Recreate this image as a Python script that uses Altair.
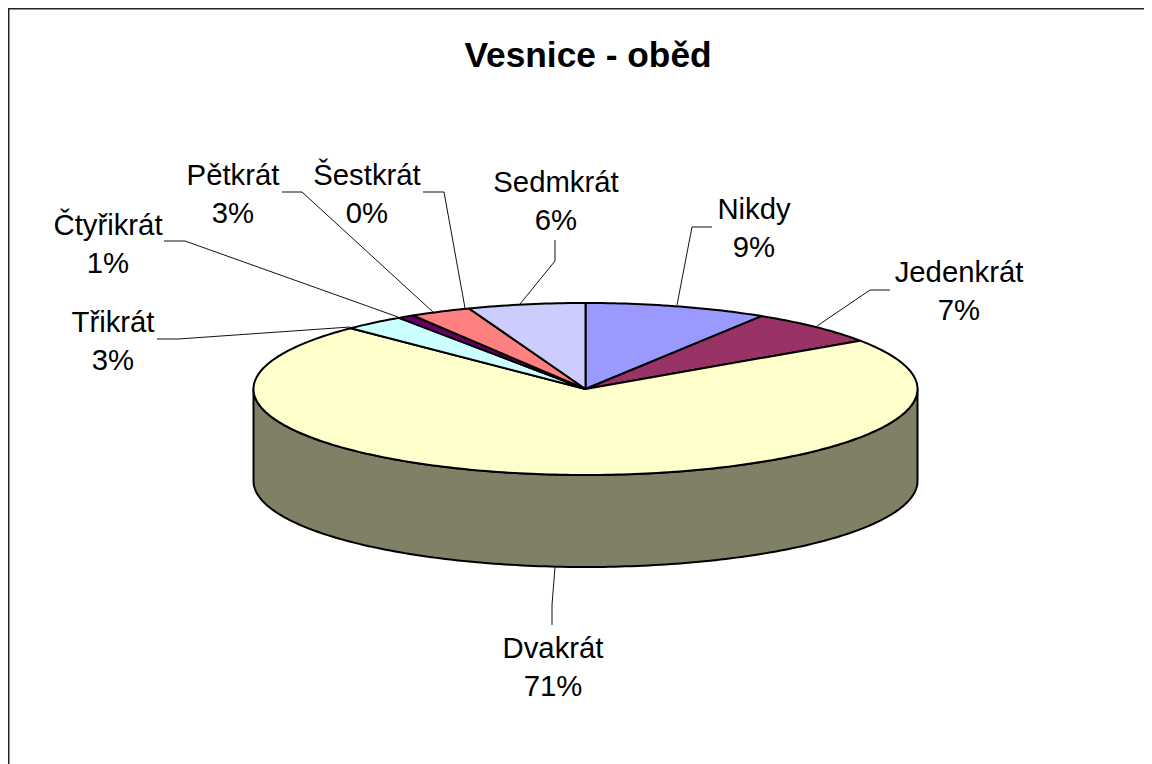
import math
import altair as alt
import pandas as pd

# Chart content
TITLE = "Vesnice - oběd"
names = ["Nikdy", "Jedenkrát", "Dvakrát", "Třikrát", "Čtyřikrát", "Pětkrát", "Šestkrát", "Sedmkrát"]
shares = [8.9, 6.6, 72.0, 3.0, 0.8, 3.0, 0.0, 5.7]   # drawn slice sizes
percent_labels = ["9%", "7%", "71%", "3%", "1%", "3%", "0%", "6%"]
colors = ["#9999FF", "#993366", "#FFFFCC", "#CCFFFF", "#660066", "#FF8080", "#0066CC", "#CCCCFF"]
wall_color = "#808066"

# Label first-line centres and leader lines in picture coordinates
label_x = [754, 959, 553, 113, 108, 233, 367, 556]
label_y = [210, 273, 649, 323, 226, 176, 176, 183]
leaders = [
    [(677, 305), (692, 227), (712, 227)],
    [(817, 326), (870, 290), (890, 290)],
    [(555, 567), (552, 605), (552, 625)],
    [(350, 327), (178, 339), (157, 339)],
    [(398, 317), (185, 241), (164, 241)],
    [(433, 312), (302, 192), (282, 192)],
    [(465, 308), (444, 192), (423, 192)],
    [(520, 304), (555, 261), (555, 240)],
]

# Pie geometry
CX, CY, RX, RY, DEPTH = 585.5, 389, 332, 86, 92
W, H = 1136, 756
x_scale = alt.Scale(domain=[8, 8 + W], nice=False, zero=False)
y_scale = alt.Scale(domain=[8, 8 + H], reverse=True, nice=False, zero=False)


def rim(deg, dy=0):
    a = math.radians(deg)
    return CX + RX * math.sin(a), CY - RY * math.cos(a) + dy


# Top face: one closed outline per slice, sweeping clockwise from 12 o'clock
rows = []
start = 0.0
for name, share in zip(names, shares):
    end = start + share * 3.6
    n = max(2, int(share * 3.6) + 2)
    pts = [(CX, CY)] + [rim(start + (end - start) * i / (n - 1)) for i in range(n)]
    for order, (x, y) in enumerate(pts):
        rows.append({"name": name, "x": x, "y": y, "order": order})
    start = end
top = pd.DataFrame(rows)

# Side wall: the front half of the rim, and the same rim moved down by the depth
front = [rim(90 + i) for i in range(181)]
lower = [rim(270 - i, DEPTH) for i in range(181)]
wall = pd.DataFrame(
    [{"name": "stěna", "x": x, "y": y, "order": i} for i, (x, y) in enumerate(front + lower)]
)

leader_df = pd.DataFrame(
    [
        {"name": n, "x": x, "y": y, "order": i}
        for n, line in zip(names, leaders)
        for i, (x, y) in enumerate(line)
    ]
)
labels = pd.DataFrame(
    {
        "label": [f"{n}\n{p}" for n, p in zip(names, percent_labels)],
        "x": label_x,
        "y": label_y,
    }
)
frame_v = pd.DataFrame({"x": [8.75], "y": [8], "y2": [8 + H]})
frame_h = pd.DataFrame({"y": [8.75], "x": [8], "x2": [8 + W]})

X = alt.X("x:Q", scale=x_scale, axis=None)
Y = alt.Y("y:Q", scale=y_scale, axis=None)

wall_layer = alt.Chart(wall).mark_line(
    interpolate="linear-closed", fill=wall_color, stroke="black", strokeWidth=2, strokeJoin="round"
).encode(x=X, y=Y, order="order:Q")

slice_layer = alt.Chart(top).mark_line(
    interpolate="linear-closed", stroke="black", strokeWidth=2, strokeJoin="round"
).encode(
    x=X,
    y=Y,
    order="order:Q",
    detail=alt.Detail("name:N"),
    fill=alt.Fill("name:N", scale=alt.Scale(domain=names, range=colors), legend=None),
)

leader_layer = alt.Chart(leader_df).mark_line(stroke="#111111", strokeWidth=1).encode(
    x=X, y=Y, order="order:Q", detail="name:N"
)

text_layer = alt.Chart(labels).mark_text(
    font="Liberation Sans", fontSize=29.3, lineBreak="\n", lineHeight=38, align="center", baseline="middle", color="black"
).encode(x=X, y=Y, text="label:N")

frame_left = alt.Chart(frame_v).mark_rule(color="#222222", strokeWidth=1.5).encode(
    x=alt.X("x:Q", scale=x_scale, axis=None), y=Y, y2="y2:Q"
)
frame_top = alt.Chart(frame_h).mark_rule(color="#222222", strokeWidth=1.5).encode(
    y=alt.Y("y:Q", scale=y_scale, axis=None), x=X, x2="x2:Q"
)

chart = (
    alt.layer(wall_layer, slice_layer, leader_layer, text_layer, frame_left, frame_top)
    .properties(
        width=W,
        height=H,
        padding=0,
        autosize=alt.AutoSizeParams(type="none"),
        background="white",
        title=alt.TitleParams(
            TITLE,
            font="Liberation Sans",
            fontSize=35.3,
            fontWeight="bold",
            color="black",
            anchor="middle",
            baseline="middle",
            offset=0,
            dx=12,
            dy=84,
        ),
    )
    .configure_view(stroke=None)
)

chart.save("out.html", embed_options={"renderer": "svg", "actions": False})
